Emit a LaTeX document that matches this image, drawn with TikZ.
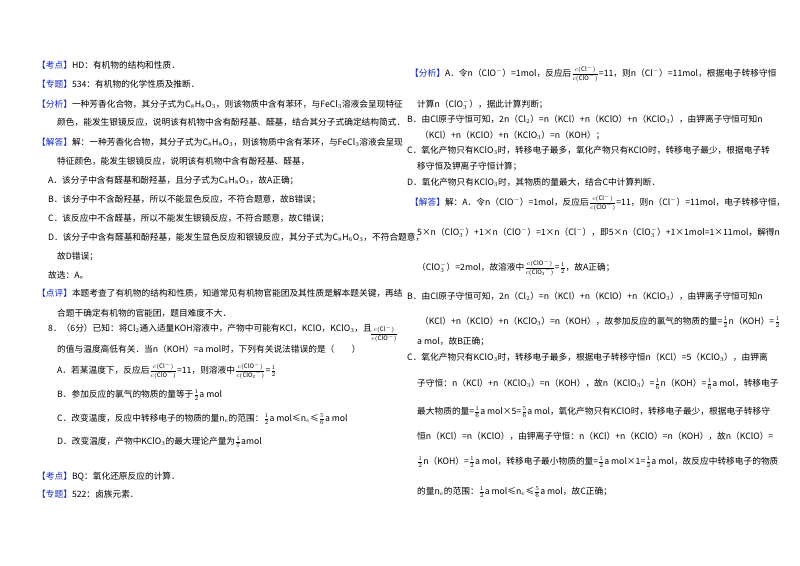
\documentclass[tikz,border=0pt]{standalone}
\usepackage{fontspec}
\setmainfont{Noto Sans CJK SC}
\definecolor{kblue}{RGB}{20,40,200}
\newcommand{\lb}[1]{{\color{kblue}【#1】}}
\newcommand{\cf}{$\frac{c(\mathrm{Cl}^-)}{c(\mathrm{ClO}^-)}$}
\begin{document}
\begin{tikzpicture}[x=1pt,y=-1pt,t/.style={anchor=base west,inner sep=0,font=\fontsize{8.7}{10}\selectfont}]
\useasboundingbox[fill=white](0,0) rectangle (800,565);
% left column
\node[t] (l1) at (37,68) {\lb{考点}HD：有机物的结构和性质．};
\node[t] (l2) at (37,87) {\lb{专题}534：有机物的化学性质及推断．};
\node[t] (l3) at (37,107) {\lb{分析}一种芳香化合物，其分子式为C$_8$H$_8$O$_3$，则该物质中含有苯环，与FeCl$_3$溶液会呈现特征};
\node[t] (l4) at (57,125) {颜色，能发生银镜反应，说明该有机物中含有酚羟基、醛基，结合其分子式确定结构简式．};
\node[t] (l5) at (37,145) {\lb{解答}解：一种芳香化合物，其分子式为C$_8$H$_8$O$_3$，则该物质中含有苯环，与FeCl$_3$溶液会呈现};
\node[t] (l6) at (57,164) {特征颜色，能发生银镜反应，说明该有机物中含有酚羟基、醛基，};
\node[t] (l7) at (48,183) {A．该分子中含有醛基和酚羟基，且分子式为C$_8$H$_8$O$_3$，故A正确；};
\node[t] (l8) at (48,202) {B．该分子中不含酚羟基，所以不能显色反应，不符合题意，故B错误；};
\node[t] (l9) at (48,221) {C．该反应中不含醛基，所以不能发生银镜反应，不符合题意，故C错误；};
\node[t] (l10) at (48,240) {D．该分子中含有醛基和酚羟基，能发生显色反应和银镜反应，其分子式为C$_8$H$_6$O$_3$，不符合题意，};
\node[t] (l11) at (57,259) {故D错误；};
\node[t] (l12) at (48,278) {故选：A。};
\node[t] (l13) at (37,296) {\lb{点评}本题考查了有机物的结构和性质，知道常见有机物官能团及其性质是解本题关键，再结};
\node[t] (l14) at (57,316) {合题干确定有机物的官能团，题目难度不大．};
\node[t] (q8) at (48,331) {8．（6分）已知：将Cl$_2$通入适量KOH溶液中，产物中可能有KCl，KClO，KClO$_3$，且};
\node[t,anchor=west] (q8f) at (370,334) {\cf};
\node[t] (q9) at (57,352) {的值与温度高低有关．当n（KOH）=a mol时，下列有关说法错误的是（\quad\quad）};
\node[t] (qa) at (57,373) {A．若某温度下，反应后\cf=11，则溶液中$\frac{c(\mathrm{ClO}^-)}{c(\mathrm{ClO_3}^-)}$=$\frac{1}{2}$};
\node[t] (qb) at (57,397) {B．参加反应的氯气的物质的量等于$\frac12$a mol};
\node[t] (qc) at (57,421) {C．改变温度，反应中转移电子的物质的量n$_e$的范围：$\frac12$a mol≤n$_e$≤$\frac56$a mol};
\node[t] (qd) at (57,444) {D．改变温度，产物中KClO$_3$的最大理论产量为$\frac17$amol};
\node[t] (k1) at (37,479) {\lb{考点}BQ：氧化还原反应的计算．};
\node[t] (k2) at (37,497) {\lb{专题}522：卤族元素．};
% right column
\node[t] (r1) at (410,76) {\lb{分析}A．令n（ClO$^-$）=1mol，反应后\cf=11，则n（Cl$^-$）=11mol，根据电子转移守恒};
\node[t] (r2) at (417,107) {计算n（ClO$_3^-$），据此计算判断；};
\node[t] (r3) at (407,122) {B．由Cl原子守恒可知，2n（Cl$_2$）=n（KCl）+n（KClO）+n（KClO$_3$），由钾离子守恒可知n};
\node[t] (r4) at (420,138) {（KCl）+n（KClO）+n（KClO$_3$）=n（KOH）；};
\node[t] (r5) at (407,153) {C．氧化产物只有KClO$_3$时，转移电子最多，氧化产物只有KClO时，转移电子最少，根据电子转};
\node[t] (r6) at (417,169) {移守恒及钾离子守恒计算；};
\node[t] (r7) at (407,185) {D．氧化产物只有KClO$_3$时，其物质的量最大，结合C中计算判断．};
\node[t] (r8) at (410,205) {\lb{解答}解：A．令n（ClO$^-$）=1mol，反应后\cf=11，则n（Cl$^-$）=11mol，电子转移守恒，};
\node[t] (r9) at (417,235) {5×n（ClO$_3^-$）+1×n（ClO$^-$）=1×n（Cl$^-$），即5×n（ClO$_3^-$）+1×1mol=1×11mol，解得n};
\node[t] (r10) at (417,270) {（ClO$_3^-$）=2mol，故溶液中$\frac{c(\mathrm{ClO}^-)}{c(\mathrm{ClO_3}^-)}$=$\frac12$，故A正确；};
\node[t] (r11) at (407,299) {B．由Cl原子守恒可知，2n（Cl$_2$）=n（KCl）+n（KClO）+n（KClO$_3$），由钾离子守恒可知n};
\node[t] (r12) at (420,324) {（KCl）+n（KClO）+n（KClO$_3$）=n（KOH），故参加反应的氯气的物质的量=$\frac12$n（KOH）=$\frac12$};
\node[t] (r13) at (417,344) {a mol，故B正确；};
\node[t] (r14) at (407,360) {C．氧化产物只有KClO$_3$时，转移电子最多，根据电子转移守恒n（KCl）=5（KClO$_3$），由钾离};
\node[t] (r15) at (417,386) {子守恒：n（KCl）+n（KClO$_3$）=n（KOH），故n（KClO$_3$）=$\frac16$n（KOH）=$\frac16$a mol，转移电子};
\node[t] (r16) at (417,414) {最大物质的量=$\frac16$a mol×5=$\frac56$a mol，氧化产物只有KClO时，转移电子最少，根据电子转移守};
\node[t] (r17) at (417,439) {恒n（KCl）=n（KClO），由钾离子守恒：n（KCl）+n（KClO）=n（KOH），故n（KClO）=};
\node[t] (r18) at (417,464) {$\frac12$n（KOH）=$\frac12$a mol，转移电子最小物质的量=$\frac12$a mol×1=$\frac12$a mol，故反应中转移电子的物质};
\node[t] (r19) at (417,494) {的量n$_e$的范围：$\frac12$a mol≤n$_e$≤$\frac56$a mol，故C正确；};
\end{tikzpicture}
\end{document}
